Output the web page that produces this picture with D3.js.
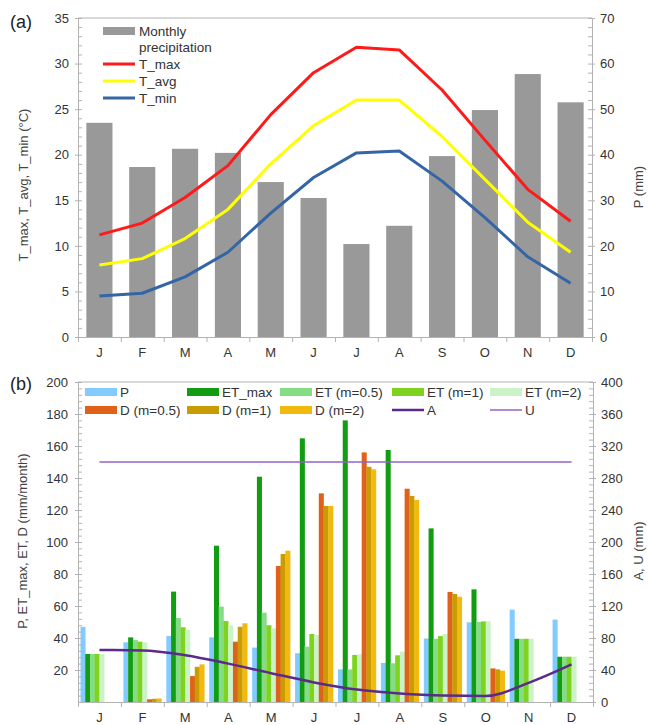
<!DOCTYPE html>
<html><head><meta charset="utf-8">
<script src="https://cdn.jsdelivr.net/npm/d3@7"></script>
<style>body{margin:0;background:#fff}svg{display:block;font-family:"Liberation Sans",Arial,sans-serif}</style>
</head><body><svg id="c" width="648" height="725"></svg>
<script>
// ---------- data ----------
const months = ["J","F","M","A","M","J","J","A","S","O","N","D"];
const precip = [47, 37.3, 41.3, 40.4, 34, 30.5, 20.4, 24.4, 39.7, 49.8, 57.7, 51.5];
const tMax = [11.2, 12.5, 15.3, 18.8, 24.4, 29.0, 31.8, 31.5, 27.1, 21.6, 16.2, 12.7];
const tAvg = [7.9, 8.6, 10.8, 14.0, 19.0, 23.2, 26.0, 26.0, 22.0, 17.3, 12.6, 9.3];
const tMin = [4.5, 4.8, 6.6, 9.3, 13.6, 17.5, 20.2, 20.4, 17.1, 13.1, 8.8, 5.9];

const etMax = [30, 40.4, 69, 97.7, 140.8, 164.8, 176, 157.5, 108.5, 70.4, 39.5, 28.3];
const et05 = [30, 38.7, 52.5, 59.6, 55.8, 34.6, 20.4, 24.2, 39.5, 50, 39.5, 28.3];
const et1 = [30, 37.7, 46.7, 50.6, 48, 42.5, 29.4, 29.2, 41.2, 50.4, 39.5, 28.3];
const et2 = [30, 37.3, 45, 48, 46, 41.9, 29.8, 31.5, 42.5, 50.4, 39.5, 28.3];
const d05 = [0, 1.7, 16.2, 37.7, 85, 130.4, 156, 133.3, 68.8, 21, 0, 0];
const d1 = [0, 2, 22, 47, 92.5, 122.5, 147, 128.8, 67.5, 20.4, 0, 0];
const d2 = [0, 2.2, 23.5, 49.2, 94.6, 122.5, 145.4, 126.3, 65.8, 19.6, 0, 0];
const storageA = [65, 64.5, 58.5, 48, 36, 24.5, 15.5, 10.5, 8, 7.5, 24, 47];
const capacityU = [300, 300, 300, 300, 300, 300, 300, 300, 300, 300, 300, 300];

const tempTicks = [0, 5, 10, 15, 20, 25, 30, 35];
const precipTicks = [0, 10, 20, 30, 40, 50, 60, 70];
const flowTicks = [20, 40, 60, 80, 100, 120, 140, 160, 180, 200];
const storeTicks = [0, 40, 80, 120, 160, 200, 240, 280, 320, 360, 400];

const barNames = ["P", "ET_max", "ET (m=0.5)", "ET (m=1)", "ET (m=2)", "D (m=0.5)", "D (m=1)", "D (m=2)"];
const barSeries = [precip, etMax, et05, et1, et2, d05, d1, d2];
const barColors = ["#83caff", "#129c12", "#85dc85", "#7fd31f", "#ccf3c8", "#e0621a", "#c99c04", "#f2b90f"];
const colA = "#5a2a8c", colU = "#9263c2";

// ---------- setup ----------
const svg = d3.select("#c");
const axisColor = "#b3b3b3", txt = "#333";
function styleAxis(g, fs) {
  g.selectAll(".domain").attr("stroke", axisColor);
  g.selectAll(".tick line").attr("stroke", axisColor);
  g.selectAll("text").attr("fill", txt).style("font-size", (fs || 13) + "px")
    .style("font-family", '"Liberation Sans",Arial,sans-serif');
  return g;
}
function noDomain(g) { g.select(".domain").remove(); return g; }

// ================= Panel (a) =================
const L1 = 78, R1 = 592, T1 = 18, B1 = 337;
const xA = d3.scaleBand().domain(d3.range(12)).range([L1, R1]);
const xAb = d3.scaleLinear().domain([0, 12]).range([L1, R1]);
const yT = d3.scaleLinear().domain([0, 35]).range([B1, T1]);
const yP = d3.scaleLinear().domain([0, 70]).range([B1, T1]);

// bars
const bwA = xA.bandwidth(), barW = bwA * 0.61;
svg.append("g").selectAll("rect").data(precip).join("rect")
  .attr("x", (d, i) => xA(i) + (bwA - barW) / 2)
  .attr("width", barW)
  .attr("y", d => yP(d))
  .attr("height", d => yP(0) - yP(d))
  .attr("fill", "#999999");

// lines
const lineA = (arr) => d3.line().x((d, i) => xA(i) + bwA / 2).y(d => yT(d))(arr);
[[tMax, "#ff1a1a"], [tAvg, "#ffff00"], [tMin, "#3465a4"]].forEach(([arr, c]) => {
  svg.append("path").attr("d", lineA(arr)).attr("fill", "none").attr("stroke", c)
    .attr("stroke-width", 3).attr("stroke-linejoin", "round");
});

// frame top
svg.append("line").attr("x1", L1).attr("x2", R1).attr("y1", T1).attr("y2", T1).attr("stroke", axisColor);
// left axis
styleAxis(svg.append("g").attr("transform", `translate(${L1},0)`)
  .call(d3.axisLeft(yT).tickValues(tempTicks).tickSize(3).tickSizeOuter(0).tickPadding(6)));
styleAxis(noDomain(svg.append("g").attr("transform", `translate(${L1},0)`)
  .call(d3.axisLeft(yT).tickValues(d3.range(0, 36, 1)).tickSize(-4).tickFormat(""))));
// right axis
styleAxis(svg.append("g").attr("transform", `translate(${R1},0)`)
  .call(d3.axisRight(yP).tickValues(precipTicks).tickSize(3).tickSizeOuter(0).tickPadding(5)));
styleAxis(noDomain(svg.append("g").attr("transform", `translate(${R1},0)`)
  .call(d3.axisRight(yP).tickValues(d3.range(0, 71, 2)).tickSize(-4).tickFormat(""))));
// bottom axis
styleAxis(svg.append("g").attr("transform", `translate(0,${B1})`)
  .call(d3.axisBottom(xAb).tickValues(d3.range(13)).tickSize(5).tickSizeOuter(0).tickFormat("")));
styleAxis(noDomain(svg.append("g").attr("transform", `translate(0,${B1})`)
  .call(d3.axisBottom(xA).tickSize(0).tickPadding(11).tickFormat(i => months[i]))));

// legend (a)
const lg1 = svg.append("g").style("font-size", "13.5px").attr("fill", txt);
lg1.append("rect").attr("x", 103).attr("y", 27).attr("width", 32).attr("height", 8).attr("fill", "#999999");
lg1.append("text").attr("x", 139).attr("y", 36).text("Monthly");
lg1.append("text").attr("x", 139).attr("y", 52).text("precipitation");
[["T_max", "#ff1a1a", 64], ["T_avg", "#ffff00", 81], ["T_min", "#3465a4", 98]].forEach(([n, c, y]) => {
  lg1.append("line").attr("x1", 103).attr("x2", 135).attr("y1", y).attr("y2", y).attr("stroke", c).attr("stroke-width", 3);
  lg1.append("text").attr("x", 139).attr("y", y + 4.5).text(n);
});

// titles (a)
svg.append("text").attr("x", 10).attr("y", 28).text("(a)").style("font-size", "18px").attr("fill", "#222");
svg.append("text").attr("transform", "translate(28,185) rotate(-90)").attr("text-anchor", "middle")
  .style("font-size", "13px").attr("fill", "#444").text("T_max, T_avg, T_min (°C)");
svg.append("text").attr("transform", "translate(643,187) rotate(-90)").attr("text-anchor", "middle")
  .style("font-size", "13px").attr("fill", "#444").text("P (mm)");

// ================= Panel (b) =================
const L2 = 78, R2 = 593, T2 = 382, B2 = 702;
const xB = d3.scaleBand().domain(d3.range(12)).range([L2, R2]);
const xBb = d3.scaleLinear().domain([0, 12]).range([L2, R2]);
const yL = d3.scaleLinear().domain([0, 200]).range([B2, T2]);
const yR = d3.scaleLinear().domain([0, 400]).range([B2, T2]);
const bwB = xB.bandwidth();
const xSub = d3.scaleBand().domain(d3.range(barNames.length)).range([2.5, bwB - 2.5]).padding(0);

barSeries.forEach((arr, s) => {
  svg.append("g").selectAll("rect").data(arr).join("rect")
    .attr("x", (d, i) => xB(i) + xSub(s))
    .attr("width", xSub.bandwidth() + 0.3)
    .attr("y", d => yL(d))
    .attr("height", d => yL(0) - yL(d))
    .attr("fill", barColors[s]);
});

const lineB = d3.line().x((d, i) => xB(i) + bwB / 2).y(d => yR(d));
svg.append("path").attr("d", lineB(capacityU)).attr("fill", "none").attr("stroke", colU).attr("stroke-width", 1.5);
svg.append("path").attr("d", lineB.curve(d3.curveMonotoneX)(storageA)).attr("fill", "none").attr("stroke", colA).attr("stroke-width", 2.5);

svg.append("line").attr("x1", L2).attr("x2", R2).attr("y1", T2).attr("y2", T2).attr("stroke", axisColor);
styleAxis(svg.append("g").attr("transform", `translate(${L2},0)`)
  .call(d3.axisLeft(yL).tickValues(flowTicks).tickSize(3).tickSizeOuter(0).tickPadding(7)));
styleAxis(noDomain(svg.append("g").attr("transform", `translate(${L2},0)`)
  .call(d3.axisLeft(yL).tickValues(d3.range(0, 201, 4)).tickSize(-4).tickFormat(""))));
styleAxis(svg.append("g").attr("transform", `translate(${R2},0)`)
  .call(d3.axisRight(yR).tickValues(storeTicks).tickSize(3).tickSizeOuter(0).tickPadding(5)));
styleAxis(noDomain(svg.append("g").attr("transform", `translate(${R2},0)`)
  .call(d3.axisRight(yR).tickValues(d3.range(0, 401, 8)).tickSize(-4).tickFormat(""))));
styleAxis(svg.append("g").attr("transform", `translate(0,${B2})`)
  .call(d3.axisBottom(xBb).tickValues(d3.range(13)).tickSize(5).tickSizeOuter(0).tickFormat("")));
styleAxis(noDomain(svg.append("g").attr("transform", `translate(0,${B2})`)
  .call(d3.axisBottom(xB).tickSize(0).tickPadding(11).tickFormat(i => months[i]))));

// legend (b)
const lg2 = svg.append("g").style("font-size", "13.5px").attr("fill", txt);
const legX = [85, 187, 280, 392, 490];
const row1 = [0, 1, 2, 3, 4];
row1.forEach((s, k) => {
  lg2.append("rect").attr("x", legX[k]).attr("y", 388).attr("width", 32).attr("height", 8).attr("fill", barColors[s]);
  lg2.append("text").attr("x", legX[k] + 35).attr("y", 396.5).text(barNames[s]);
});
[5, 6, 7].forEach((s, k) => {
  lg2.append("rect").attr("x", legX[k]).attr("y", 406).attr("width", 32).attr("height", 8).attr("fill", barColors[s]);
  lg2.append("text").attr("x", legX[k] + 35).attr("y", 414.5).text(barNames[s]);
});
[["A", colA, 2.5, legX[3]], ["U", colU, 1.5, legX[4]]].forEach(([n, c, w, x]) => {
  lg2.append("line").attr("x1", x).attr("x2", x + 32).attr("y1", 410).attr("y2", 410).attr("stroke", c).attr("stroke-width", w);
  lg2.append("text").attr("x", x + 35).attr("y", 414.5).text(n);
});

svg.append("text").attr("x", 10).attr("y", 390).text("(b)").style("font-size", "18px").attr("fill", "#222");
svg.append("text").attr("transform", "translate(27,541) rotate(-90)").attr("text-anchor", "middle")
  .style("font-size", "13px").attr("fill", "#444").text("P, ET_max, ET, D (mm/month)");
svg.append("text").attr("transform", "translate(643,551) rotate(-90)").attr("text-anchor", "middle")
  .style("font-size", "13px").attr("fill", "#444").text("A, U (mm)");
</script></body></html>
